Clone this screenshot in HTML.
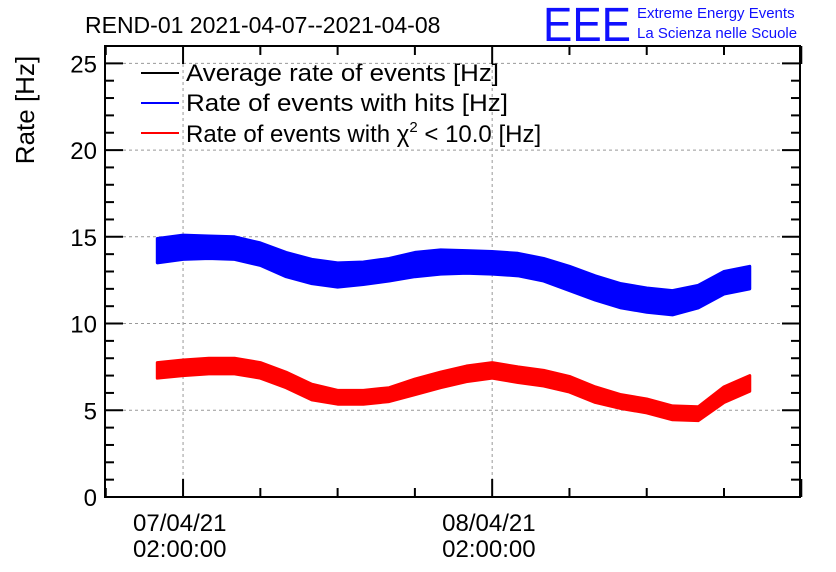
<!DOCTYPE html>
<html><head><meta charset="utf-8"><style>
body{margin:0;background:#fff;}
svg{display:block;font-family:"Liberation Sans",sans-serif;}
</style></head><body>
<svg id="chart" width="836" height="572">
<text x="85" y="33" font-size="23">REND-01 2021-04-07--2021-04-08</text>
<g>
<text x="543" y="41" font-size="48" fill="#1010ff" textLength="88" lengthAdjust="spacingAndGlyphs">EEE</text>
<text x="637" y="18" font-size="15" fill="#1010ff">Extreme Energy Events</text>
<text x="637" y="38" font-size="15" fill="#1010ff">La Scienza nelle Scuole</text>
</g>
<text transform="translate(34,110) rotate(-90)" text-anchor="middle" font-size="26">Rate [Hz]</text>
<g id="grid"></g><g id="series"></g><g id="axes"></g>
<g>
<g><line x1="141" y1="73" x2="179" y2="73" stroke="#000" stroke-width="2"/><text x="186" y="81" font-size="24" textLength="313" lengthAdjust="spacingAndGlyphs">Average rate of events [Hz]</text></g>
<g><line x1="141" y1="103" x2="179" y2="103" stroke="#0000ff" stroke-width="2"/><text x="186" y="111" font-size="24" textLength="322" lengthAdjust="spacingAndGlyphs">Rate of events with hits [Hz]</text></g>
<g><line x1="141" y1="133" x2="179" y2="133" stroke="#ff0000" stroke-width="2"/><text x="186" y="142" font-size="24">Rate of events with χ<tspan dy="-10" font-size="15">2</tspan><tspan dy="10"> &lt; 10.0 [Hz]</tspan></text></g>
</g>
</svg>
<script>
const hours=[0,2,4,6,8,10,12,14,16,18,20,22,24,26,28,30,32,34,36,38,40,42,44,46];
const blueRate=[14.2,14.4,14.4,14.35,14.0,13.4,13.0,12.8,12.9,13.1,13.4,13.55,13.55,13.5,13.4,13.1,12.6,12.05,11.6,11.35,11.2,11.55,12.35,12.65];
const avgRate=[14.5,14.7,14.7,14.6,14.3,13.7,13.3,13.1,13.1,13.3,13.6,13.8,13.8,13.8,13.7,13.45,13.0,12.4,11.9,11.6,11.4,11.7,12.45,12.75];
const redRate=[7.3,7.45,7.55,7.55,7.3,6.75,6.05,5.75,5.75,5.9,6.35,6.75,7.1,7.3,7.05,6.85,6.5,5.9,5.5,5.25,4.85,4.8,5.9,6.55];
const blueSpread=[0.7,0.7,0.65,0.65,0.65,0.7,0.7,0.7,0.65,0.65,0.7,0.7,0.65,0.65,0.65,0.65,0.7,0.7,0.7,0.7,0.7,0.65,0.65,0.65];
const redSpread=[0.45,0.45,0.45,0.45,0.45,0.45,0.45,0.4,0.4,0.4,0.45,0.45,0.45,0.45,0.45,0.45,0.45,0.45,0.4,0.4,0.4,0.4,0.45,0.45];
const yTicks=[0,5,10,15,20,25];
const xTickLabels=[[2,"07/04/21","02:00:00"],[26,"08/04/21","02:00:00"]];
const L=105,R=800,T=46,B=497,X0=-4.06,X1=49.9,Y1=26;
const sx=h=>L+(h-X0)/(X1-X0)*(R-L);
const sy=v=>B-v/Y1*(B-T);
const NS="http://www.w3.org/2000/svg";
function mk(p,tag,at){const e=document.createElementNS(NS,tag);for(const k in at)e.setAttribute(k,at[k]);p.appendChild(e);return e;}
const grid=document.getElementById('grid'),ser=document.getElementById('series'),ax=document.getElementById('axes');
yTicks.forEach(v=>{if(v>0){const g=mk(grid,'line',{x1:L,x2:R,y1:sy(v),y2:sy(v),stroke:'#999','stroke-dasharray':'3,3'});

}
const t=mk(ax,'text',{x:L-8,y:sy(v)+9,'text-anchor':'end','font-size':24});t.textContent=v;

});
for(let v=0;v<=Y1;v++){const len=v%5===0?18:9;mk(ax,'line',{x1:L,x2:L+len,y1:sy(v),y2:sy(v),stroke:'#000','stroke-width':2});mk(ax,'line',{x1:R,x2:R-len,y1:sy(v),y2:sy(v),stroke:'#000','stroke-width':2});}
for(let h=-4;h<=50;h+=6){const maj=(h-2)%24===0;const len=maj?18:9;mk(ax,'line',{x1:sx(h),x2:sx(h),y1:B,y2:B-len,stroke:'#000','stroke-width':2});mk(ax,'line',{x1:sx(h),x2:sx(h),y1:T,y2:T+len,stroke:'#000','stroke-width':2});}
xTickLabels.forEach(d=>{const g=mk(grid,'line',{x1:sx(d[0]),x2:sx(d[0]),y1:T,y2:B,stroke:'#999','stroke-dasharray':'3,3'});


const t=mk(ax,'text',{x:sx(d[0])-50,y:531,'font-size':24});


mk(t,'tspan',{x:sx(d[0])-50,dy:0}).textContent=d[1];mk(t,'tspan',{x:sx(d[0])-50,dy:26}).textContent=d[2];});
const fr=mk(ax,'rect',{x:L,y:T,width:R-L,height:B-T,fill:'none',stroke:'#000','stroke-width':2});


function band(c,s,col,name){const up=hours.map((h,i)=>sx(h)+','+sy(c[i]+s[i])),dn=hours.map((h,i)=>sx(h)+','+sy(c[i]-s[i])).reverse();
const p=mk(ser,'polygon',{points:up.concat(dn).join(' '),fill:col,stroke:col,'stroke-width':3,'stroke-linejoin':'round'});

}
function line(c,col,w,name){const p=mk(ser,'polyline',{points:hours.map((h,i)=>sx(h)+','+sy(c[i])).join(' '),fill:'none',stroke:col,'stroke-width':w});

}
line(avgRate,'#000',2,'average-rate-line');
band(blueRate,blueSpread,'#0000ff','hits-rate-series');
band(redRate,redSpread,'#ff0000','chi2-rate-series');
</script>
</body></html>
